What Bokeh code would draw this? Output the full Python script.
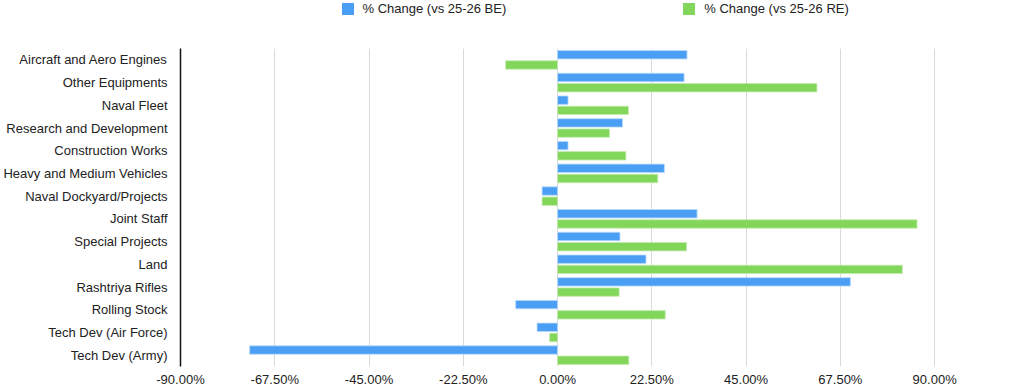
from bokeh.plotting import figure
from bokeh.layouts import column
from bokeh.models import (ColumnDataSource, FactorRange, Range1d, Legend, LegendItem,
                          NumeralTickFormatter, FixedTicker)
from bokeh.transform import dodge
from bokeh.embed import file_html
from bokeh.resources import INLINE

categories = [
    "Aircraft and Aero Engines", "Other Equipments", "Naval Fleet",
    "Research and Development", "Construction Works", "Heavy and Medium Vehicles",
    "Naval Dockyard/Projects", "Joint Staff", "Special Projects", "Land",
    "Rashtriya Rifles", "Rolling Stock", "Tech Dev (Air Force)", "Tech Dev (Army)",
]
change_vs_be = [30.9, 30.2, 2.5, 15.5, 2.5, 25.5, -3.7, 33.3, 14.9, 21.1, 69.9, -10.0, -4.9, -73.5]
change_vs_re = [-12.4, 61.9, 16.9, 12.4, 16.3, 23.9, -3.7, 85.8, 30.8, 82.3, 14.7, 25.7, -1.9, 17.0]
tick_values = [-90, -67.5, -45, -22.5, 0, 22.5, 45, 67.5, 90]

series_names = ["% Change (vs 25-26 BE)", "% Change (vs 25-26 RE)"]
colors = ["#4a9ff5", "#82d65a"]
outline_colors = ["#b9dcfb", "#c5ebb2"]

font = "Liberation Sans"
text_color = "#222222"

source = ColumnDataSource(dict(cat=categories,
                               be=[v / 100 for v in change_vs_be],
                               re=[v / 100 for v in change_vs_re]))

# main bar chart
p = figure(width=1024, height=341, output_backend="svg", toolbar_location=None,
           y_range=FactorRange(*reversed(categories), range_padding=0),
           x_range=Range1d(-0.90, 1.05),
           min_border_left=179, min_border_right=27, min_border_top=0,
           min_border_bottom=20)

p.hbar(y=dodge("cat", 0.225, range=p.y_range), right="be", left=0, height=0.37,
       source=source, fill_color=colors[0], line_color=outline_colors[0], line_width=0.8)
p.hbar(y=dodge("cat", -0.225, range=p.y_range), right="re", left=0, height=0.37,
       source=source, fill_color=colors[1], line_color=outline_colors[1], line_width=0.8)

p.xaxis.ticker = FixedTicker(ticks=[t / 100 for t in tick_values])
p.xaxis.formatter = NumeralTickFormatter(format="0.00%")
p.xaxis.axis_line_color = None
p.xaxis.major_tick_line_color = None
p.xaxis.minor_tick_line_color = None
p.xaxis.major_tick_out = 0
p.xaxis.major_tick_in = 0
p.xaxis.minor_tick_out = 0
p.xaxis.major_label_text_font = font
p.xaxis.major_label_text_font_size = "13px"
p.xaxis.major_label_text_line_height = 1.0
p.xaxis.major_label_text_color = text_color
p.xaxis.major_label_standoff = 5

p.yaxis.axis_line_color = "#111111"
p.yaxis.axis_line_width = 1.5
p.yaxis.major_tick_line_color = None
p.yaxis.minor_tick_line_color = None
p.yaxis.major_tick_out = 0
p.yaxis.major_tick_in = 0
p.yaxis.minor_tick_out = 0
p.yaxis.major_label_text_font = font
p.yaxis.major_label_text_font_size = "13px"
p.yaxis.major_label_text_color = text_color
p.yaxis.major_label_standoff = 13

p.xgrid.grid_line_color = "#d9d9d9"
p.xgrid.grid_line_width = 1
p.ygrid.grid_line_color = None
p.outline_line_color = None

# legend strip above the chart (its frame lines up with the chart's frame)
leg = figure(width=1024, height=48, output_backend="svg", toolbar_location=None,
             x_range=Range1d(0, 1), y_range=Range1d(0, 1),
             x_axis_location=None, y_axis_location=None,
             min_border_left=179, min_border_right=27, min_border_top=0, min_border_bottom=0)
leg.grid.grid_line_color = None
leg.outline_line_color = None
# zero-size swatch renderers that only feed the legend
swatches = [leg.hbar(y=[0.5], left=[0.5], right=[0.5], height=0, fill_color=c, line_color=None)
            for c in colors]

legend = Legend(items=[LegendItem(label=n, renderers=[r]) for n, r in zip(series_names, swatches)],
                orientation="horizontal", location=(159.5, 32),
                glyph_width=15, glyph_height=15, label_standoff=8, spacing=175,
                padding=0, margin=0, border_line_color=None, background_fill_alpha=0,
                label_text_font=font, label_text_font_size="13px",
                label_text_color=text_color)
leg.add_layout(legend, "center")

open("out.html", "w").write(file_html(column(leg, p, spacing=0), INLINE))
